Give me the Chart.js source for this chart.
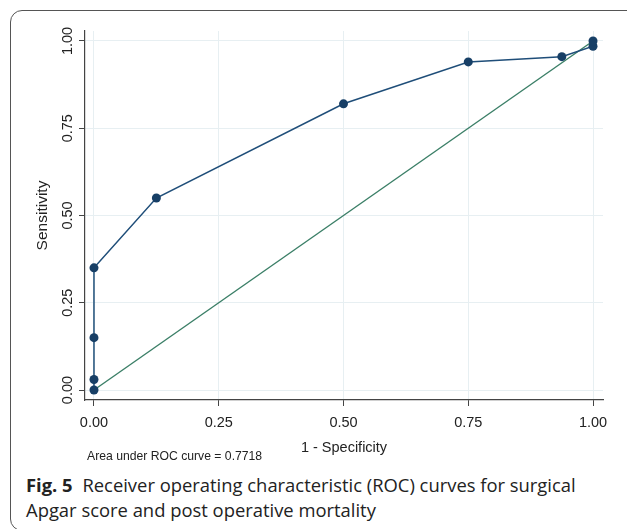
<!DOCTYPE html>
<html>
<head>
<meta charset="utf-8">
<script src="https://cdn.jsdelivr.net/npm/chart.js@4"></script>
<style>
  body { margin:0; background:#fff; width:627px; height:529px; overflow:hidden; position:relative; }
  #frame { position:absolute; left:10px; top:10px; width:630px; height:521px; border:1.5px solid #555; border-radius:12px; box-sizing:border-box; }
  #wrap { position:absolute; left:0; top:0; width:627px; height:470px; }
  #auc { position:absolute; left:87px; top:449px; font:12.2px "Liberation Sans", Arial, sans-serif; color:#222; }
  #caption { position:absolute; left:26px; top:473px; width:600px; font:18.4px "Open Sans", sans-serif; line-height:24.5px; color:#222; }
  #caption b { font-weight:700; margin-right:5px; }
</style>
</head>
<body>
<div id="frame"></div>
<div id="wrap"><canvas id="grafica"></canvas></div>
<div id="auc">Area under ROC curve = 0.7718</div>
<div id="caption"><b>Fig. 5</b> Receiver operating characteristic (ROC) curves for surgical<br>Apgar score and post operative mortality</div>
<script>
// ROC curve points (1 - specificity, sensitivity)
var fpr  = [0, 0, 0, 0, 0.125, 0.5, 0.75, 0.9375, 1, 1];
var sens = [0, 0.03, 0.15, 0.35, 0.55, 0.82, 0.94, 0.955, 0.985, 1];
// reference line
var refX = [0, 1];
var refY = [0, 1];
var tickVals = [0, 0.25, 0.5, 0.75, 1];
var tickLabels = ['0.00', '0.25', '0.50', '0.75', '1.00'];

var roc = [];
for (let i = 0; i < fpr.length; i++) roc.push({x: fpr[i], y: sens[i]});
var ref = [];
for (let i = 0; i < refX.length; i++) ref.push({x: refX[i], y: refY[i]});

function fixTicks(scale) {
    scale.ticks = tickVals.map(function(v){ return {value: v}; });
}

var ctx = document.getElementById('grafica').getContext('2d');
var myChart = new Chart(ctx, {
    type: 'scatter',
    data: {
        datasets: [{
            label: 'ROC',
            data: roc,
            showLine: true,
            borderColor: '#1f4e79',
            backgroundColor: '#173f66',
            borderWidth: 1.5,
            pointRadius: 4.5,
            pointBorderWidth: 0,
            tension: 0
        }, {
            label: 'Reference',
            data: ref,
            showLine: true,
            borderColor: '#3b7f67',
            borderWidth: 1.4,
            pointRadius: 0,
            tension: 0
        }]
    },
    options: {
        responsive: true,
        maintainAspectRatio: false,
        animation: false,
        layout: { padding: { left: 20, right: 24, top: 31, bottom: 0 } },
        plugins: { legend: { display: false }, tooltip: { enabled: false } },
        scales: {
            x: {
                type: 'linear',
                min: -0.018, max: 1.02,
                afterBuildTicks: fixTicks,
                afterFit: function(s){ s.height = 70; },
                grid: { color: '#e7eff2', tickColor: '#444', tickLength: 6, lineWidth: 1 },
                border: { display: true, color: '#444', width: 1.2 },
                ticks: {
                    color: '#222', padding: 8,
                    font: { family: '"Liberation Sans", Arial', size: 14.5 },
                    maxRotation: 0,
                    callback: function(v){ return tickLabels[tickVals.indexOf(v)]; }
                },
                title: {
                    display: true, text: '1 - Specificity', color: '#222',
                    font: { family: '"Liberation Sans", Arial', size: 14.5 },
                    padding: { top: 0, bottom: 13 }
                }
            },
            y: {
                type: 'linear',
                min: -0.0286, max: 1.0286,
                afterBuildTicks: fixTicks,
                afterFit: function(s){ s.width = 65; },
                grid: { color: '#e7eff2', tickColor: '#444', tickLength: 6, lineWidth: 1 },
                border: { display: true, color: '#444', width: 1.2 },
                ticks: {
                    color: '#222', padding: -3,
                    minRotation: 90, maxRotation: 90,
                    crossAlign: 'center',
                    font: { family: '"Liberation Sans", Arial', size: 14.5 },
                    callback: function(v){ return tickLabels[tickVals.indexOf(v)]; }
                },
                title: {
                    display: true, text: 'Sensitivity', color: '#222',
                    font: { family: '"Liberation Sans", Arial', size: 15.5 },
                    padding: { top: 13, bottom: 0 }
                }
            }
        }
    }
});
</script>
</body>
</html>
